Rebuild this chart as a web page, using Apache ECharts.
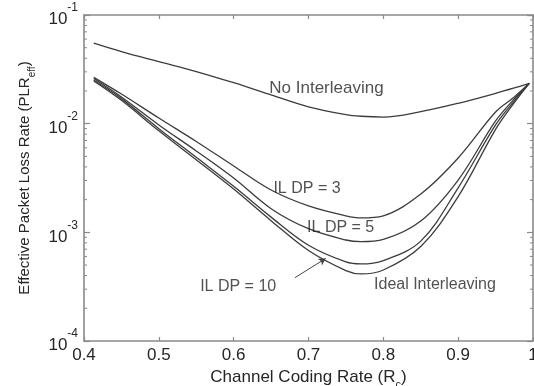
<!DOCTYPE html>
<html>
<head>
<meta charset="utf-8">
<script src="https://cdn.jsdelivr.net/npm/echarts@6/dist/echarts.min.js"></script>
<style>
html,body{margin:0;padding:0;background:#fff;}
#chart{width:534px;height:386px;}
</style>
</head>
<body>
<div id="chart"></div>
<script>
// ---- data ----
const codingRate = [0.413, 0.45, 0.5, 0.55, 0.6, 0.65, 0.7, 0.75, 0.77, 0.8, 0.85, 0.9, 0.95, 0.975, 0.995];
const noInterleaving = [0.055, 0.046, 0.0372, 0.0302, 0.0238, 0.0184, 0.0143, 0.0121, 0.0117, 0.0115, 0.0129, 0.0154, 0.019, 0.0213, 0.0235];
const ilDp3 = [0.0267, 0.01875, 0.01127, 0.00686, 0.00408, 0.00245, 0.00175, 0.00142, 0.00136, 0.00142, 0.00225, 0.00483, 0.0128, 0.0176, 0.0235];
const ilDp5 = [0.026, 0.0176, 0.00973, 0.00561, 0.00316, 0.00165, 0.00108, 0.00085, 0.00082, 0.00086, 0.00127, 0.00303, 0.0106, 0.0169, 0.0235];
const ilDp10 = [0.0252, 0.0170, 0.0090, 0.0049, 0.00265, 0.00138, 0.00076, 0.000534, 0.000512, 0.00055, 0.00083, 0.00257, 0.00973, 0.0162, 0.0235];
const idealInterleaving = [0.0247, 0.0164, 0.0086, 0.00465, 0.0025, 0.00128, 0.00068, 0.000445, 0.000414, 0.00045, 0.00074, 0.00213, 0.00887, 0.0156, 0.0235];

const xTickLabels = ['0.4', '0.5', '0.6', '0.7', '0.8', '0.9', '1'];
const yTickExponents = ['-4', '-3', '-2', '-1'];

const annotationTexts = ['No Interleaving', 'IL DP = 3', 'IL DP = 5', 'IL DP = 10', 'Ideal Interleaving'];
const annotationX = [0.724, 0.698, 0.743, 0.606, 0.869];
const annotationY = [0.0213, 0.0025, 0.00111, 0.000314, 0.000327];
const annotationSizes = [17, 16, 16, 16, 16];

const arrowFrom = [0.682, 0.000383];
const arrowTo = [0.723, 0.000575];

const minorMantissas = [2, 3, 4, 5, 6, 7, 8, 9];
const minorDecades = [1e-4, 1e-3, 1e-2];

// ---- build ----
const pair = ys => codingRate.map((x, i) => [x, ys[i]]);
const LINE = '#3c3c3c';
const FRAME = '#8a8a8a';
const TEXT = '#262626';
const FONT = '"Liberation Sans", Arial, sans-serif';

const minorTicks = [];
minorDecades.forEach(d => minorMantissas.forEach(m => minorTicks.push([m * d])));

function lineSeries(name, ys) {
  return {
    name, type: 'line', data: pair(ys), showSymbol: false, symbol: 'none',
    smooth: 0.35, lineStyle: { color: LINE, width: 1.3 }, silent: true, z: 3
  };
}

const baseXAxis = {
  type: 'value', min: 0.4, max: 1.0, interval: 0.1,
  axisLine: { show: true, lineStyle: { color: FRAME, width: 1.6 } },
  axisTick: { show: true, inside: true, length: 4, lineStyle: { color: FRAME, width: 1.2 } },
  splitLine: { show: false }
};
const baseYAxis = {
  type: 'log', logBase: 10, min: 1e-4, max: 1e-1,
  axisLine: { show: true, lineStyle: { color: FRAME, width: 1.6 } },
  axisTick: { show: true, inside: true, length: 6, lineStyle: { color: FRAME, width: 1.2 } },
  splitLine: { show: false }, minorTick: { show: false }
};

const chart = echarts.init(document.getElementById('chart'), null, { renderer: 'canvas' });
chart.setOption({
  animation: false,
  textStyle: { fontFamily: FONT },
  grid: { left: 84, right: 1, top: 15, bottom: 45, containLabel: false, outerBoundsMode: 'none' },
  xAxis: [
    Object.assign({}, baseXAxis, {
      position: 'bottom',
      name: '{b|Channel Coding Rate (R}{s|c}{b|)}',
      nameLocation: 'middle', nameGap: 24,
      nameTextStyle: {
        rich: {
          b: { fontSize: 17, color: TEXT, fontFamily: FONT, lineHeight: 22, verticalAlign: 'middle' },
          s: { fontSize: 11, color: TEXT, fontFamily: FONT, lineHeight: 22, verticalAlign: 'bottom', padding: [0, 0, -2, 0] }
        }
      },
      axisLabel: {
        show: true, margin: 6, fontSize: 17, color: TEXT, fontFamily: FONT,
        formatter: v => xTickLabels[Math.round((v - 0.4) * 10)] || ''
      }
    }),
    Object.assign({}, baseXAxis, { position: 'top', axisLabel: { show: false } })
  ],
  yAxis: [
    Object.assign({}, baseYAxis, {
      position: 'left',
      name: '{b|Effective Packet Loss Rate (PLR}{s|eff}{b|)}',
      nameLocation: 'middle', nameGap: 48, nameRotate: 90,
      nameTextStyle: {
        rich: {
          b: { fontSize: 15, color: TEXT, fontFamily: FONT, lineHeight: 22, verticalAlign: 'middle' },
          s: { fontSize: 10, color: TEXT, fontFamily: FONT, lineHeight: 22, verticalAlign: 'bottom', padding: [0, 0, -2, 0] }
        }
      },
      axisLabel: {
        show: true, margin: 6, fontFamily: FONT,
        formatter: v => {
          const e = yTickExponents[Math.round(Math.log10(v)) + 4];
          return '{b|10}{s|' + e + '}';
        },
        rich: {
          b: { fontSize: 17, color: TEXT, fontFamily: FONT, lineHeight: 26, verticalAlign: 'bottom' },
          s: { fontSize: 12, color: TEXT, fontFamily: FONT, lineHeight: 26, verticalAlign: 'top' }
        }
      }
    }),
    Object.assign({}, baseYAxis, { position: 'right', axisLabel: { show: false } })
  ],
  series: [
    lineSeries('No Interleaving', noInterleaving),
    lineSeries('IL DP = 3', ilDp3),
    lineSeries('IL DP = 5', ilDp5),
    Object.assign(lineSeries('IL DP = 10', ilDp10), {
      markLine: {
        silent: true, symbol: ['none', 'arrow'], symbolSize: [6, 7], animation: false,
        label: { show: false },
        lineStyle: { color: '#444', width: 1, type: 'solid' },
        data: [[{ coord: arrowFrom }, { coord: arrowTo }]]
      }
    }),
    lineSeries('Ideal Interleaving', idealInterleaving),
    {
      type: 'scatter', silent: true, symbolSize: 0, z: 5,
      data: annotationTexts.map((t, i) => ({
        value: [annotationX[i], annotationY[i]],
        name: t,
        label: { fontSize: annotationSizes[i] }
      })),
      label: {
        show: true, position: 'inside', color: TEXT, fontFamily: FONT,
        formatter: p => p.name
      },
      itemStyle: { color: 'transparent' }
    },
    {
      type: 'custom', silent: true, clip: false, z: 4,
      data: minorTicks,
      renderItem: (params, api) => {
        const v = api.value(0);
        const l = api.coord([0.4, v]);
        const r = api.coord([1.0, v]);
        const st = { stroke: FRAME, lineWidth: 1 };
        return {
          type: 'group', children: [
            { type: 'line', shape: { x1: l[0], y1: l[1], x2: l[0] + 3, y2: l[1] }, style: st },
            { type: 'line', shape: { x1: r[0], y1: r[1], x2: r[0] - 3, y2: r[1] }, style: st }
          ]
        };
      },
      encode: { x: -1, y: 0 }
    }
  ]
});
</script>
</body>
</html>
